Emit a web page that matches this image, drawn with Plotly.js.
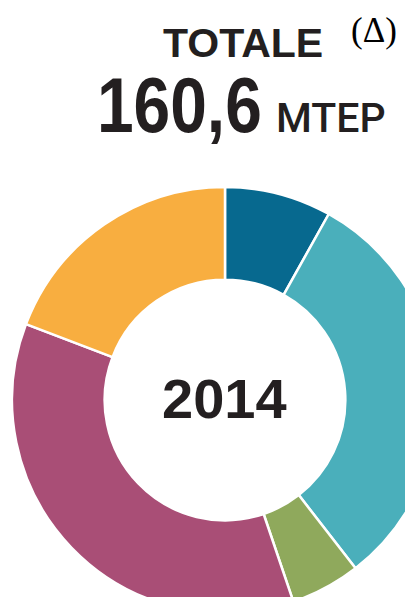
<!DOCTYPE html>
<html>
<head>
<meta charset="utf-8">
<script src="https://cdn.plot.ly/plotly-3.0.1.min.js"></script>
<style>
html,body{margin:0;padding:0;overflow:hidden;background:#fff;width:405px;height:597px;}
#chart{width:450px;height:700px;}
</style>
</head>
<body>
<div id="chart"></div>
<script>
// Data (shares of total, %)
const categories = ["Combustibili solidi", "Gas naturale", "Energia elettrica importata", "Petrolio", "Rinnovabili"];
const values = [8.1, 31.4, 5.3, 36.0, 19.2];
const colors = ["#07698f", "#4aafbb", "#8fa95c", "#a94e76", "#f8ae40"];
const titleLabel = "TOTALE";
const totalValue = "160,6";
const unitLabel = "MTEP";
const deltaLabel = "(Δ)";
const yearLabel = "2014";

const W = 450, H = 700;
const px = x => x / W;
const py = y => 1 - y / H;
const ink = "#231f20";

const trace = {
  type: "pie",
  labels: categories,
  values: values,
  sort: false,
  direction: "clockwise",
  rotation: 0,
  hole: 0.565,
  textinfo: "none",
  hoverinfo: "label+percent",
  marker: { colors: colors, line: { color: "#ffffff", width: 2.5 } },
  domain: { x: [px(12), px(438)], y: [py(613), py(187)] },
  showlegend: false
};

const layout = {
  width: W, height: H,
  margin: { l: 0, r: 0, t: 0, b: 0 },
  paper_bgcolor: "#ffffff",
  showlegend: false,
  annotations: [
    { text: "<b>" + titleLabel + "</b>", xref: "paper", yref: "paper", x: px(242.5), y: py(43),
      xanchor: "center", yanchor: "middle", showarrow: false,
      font: { family: "Liberation Sans, Arial, sans-serif", size: 41, color: ink } },
    { text: deltaLabel, xref: "paper", yref: "paper", x: px(374), y: py(31),
      xanchor: "center", yanchor: "middle", showarrow: false,
      font: { family: "Liberation Serif, Times New Roman, serif", size: 35, color: "#000" } },
    { text: "<b>" + totalValue + "</b>", xref: "paper", yref: "paper", x: px(179.5), y: py(105.5),
      xanchor: "center", yanchor: "middle", showarrow: false,
      font: { family: "Liberation Sans, Arial, sans-serif", size: 77, color: ink } },
    { text: unitLabel, xref: "paper", yref: "paper", x: px(331), y: py(118),
      xanchor: "center", yanchor: "middle", showarrow: false,
      font: { family: "Roboto, Liberation Sans, Arial, sans-serif", size: 41, weight: 500, color: ink } },
    { text: "<b>" + yearLabel + "</b>", xref: "paper", yref: "paper", x: px(224.5), y: py(398),
      xanchor: "center", yanchor: "middle", showarrow: false,
      font: { family: "Liberation Sans, Arial, sans-serif", size: 56, color: ink } }
  ]
};

// horizontal condensing of a text annotation so it matches the condensed typeface of the original
function condense(index, targetWidth) {
  const g = document.querySelector('.annotation[data-index="' + index + '"] .annotation-text');
  if (!g) return;
  const bb = g.getBBox();
  const s = targetWidth / bb.width;
  const cx = bb.x + bb.width / 2;
  g.setAttribute("transform", "translate(" + cx + ",0) scale(" + s + ",1) translate(" + (-cx) + ",0)");
}

Plotly.newPlot("chart", [trace], layout, { displayModeBar: false, staticPlot: true }).then(() => {
  condense(2, 165);
});
</script>
</body>
</html>
